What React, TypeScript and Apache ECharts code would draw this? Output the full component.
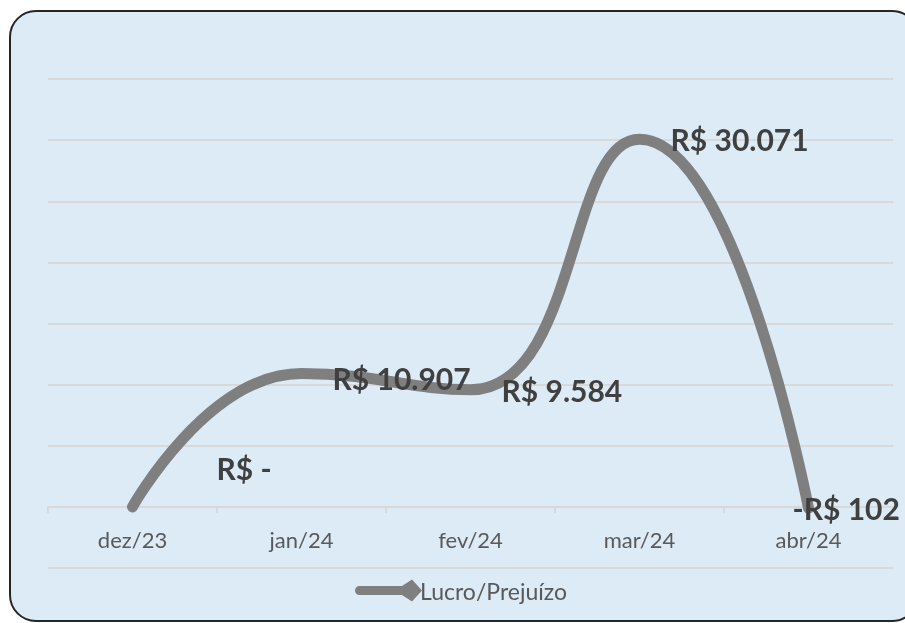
import React, { useEffect, useRef } from "react";
import * as echarts from "echarts";

const categories = ["dez/23", "jan/24", "fev/24", "mar/24", "abr/24"];
const values = [0, 10907, 9584, 30071, -102];
const valueLabels = ["R$ -", "R$ 10.907", "R$ 9.584", "R$ 30.071", "-R$ 102"];
const seriesName = "Lucro/Prejuízo";

const labelOffsets: [number, number][] = [
  [53, -39],
  [0, 4],
  [0, 0],
  [0, 0],
  [-47, 0],
];

const legendIcon =
  "path://M4.5,6.5 L47,6.5 L57,0 L67,11 L57,22 L47,15.5 L4.5,15.5 A4.5,4.5 0 0 1 4.5,6.5 Z";

export default function App() {
  const ref = useRef<HTMLDivElement>(null);
  useEffect(() => {
    if (!ref.current) return;
    const chart = echarts.init(ref.current, null, { renderer: "svg" });
    const data = values.map((v, i) => ({
      value: v,
      label: {
        formatter: valueLabels[i],
        offset: labelOffsets[i],
      },
    }));
    chart.setOption({
      animation: false,
      graphic: [
        {
          type: "rect",
          z: -10,
          silent: true,
          shape: { x: 10, y: 11, width: 908, height: 610, r: 26 },
          style: { fill: "#DDEBF7", stroke: "#262626", lineWidth: 2 },
        },
      ],
      grid: { left: 48, right: 12, top: 79, bottom: 55 },
      xAxis: {
        type: "category",
        data: categories,
        boundaryGap: true,
        offset: -61,
        axisLine: { show: true, onZero: false, lineStyle: { color: "#D9D9D9", width: 2 } },
        axisTick: { show: true, length: 6, lineStyle: { color: "#D9D9D9", width: 2 } },
        axisLabel: {
          color: "#595959",
          fontFamily: "Lato",
          fontSize: 22,
          margin: 21,
        },
      },
      yAxis: {
        type: "value",
        min: -5000,
        max: 35000,
        interval: 5000,
        axisLabel: { show: false },
        axisLine: { show: false },
        axisTick: { show: false },
        splitLine: { lineStyle: { color: "#D9D9D9", width: 2 } },
      },
      legend: {
        show: true,
        top: 574,
        left: 350,
        itemWidth: 67,
        itemHeight: 22,
        itemGap: 0,
        textStyle: {
          color: "#595959",
          fontFamily: "Lato",
          fontSize: 23,
          padding: [0, 0, 0, -7],
        },
        data: [{ name: seriesName, icon: legendIcon, itemStyle: { color: "#7F7F7F" } }],
      },
      series: [
        {
          name: seriesName,
          type: "line",
          smooth: 0.5,
          data,
          symbol: "circle",
          symbolSize: 2,
          showSymbol: true,
          itemStyle: { color: "#7F7F7F" },
          lineStyle: { color: "#7F7F7F", width: 11, cap: "round", join: "round" },
          label: {
            show: true,
            position: "right",
            distance: 30,
            color: "#404040",
            fontFamily: "Lato",
            fontWeight: "bold",
            fontSize: 30,
          },
        },
      ],
    });
    return () => chart.dispose();
  }, []);
  return (
    <div
      ref={ref}
      style={{ position: "fixed", left: 0, top: 0, width: 905, height: 623 }}
    />
  );
}
